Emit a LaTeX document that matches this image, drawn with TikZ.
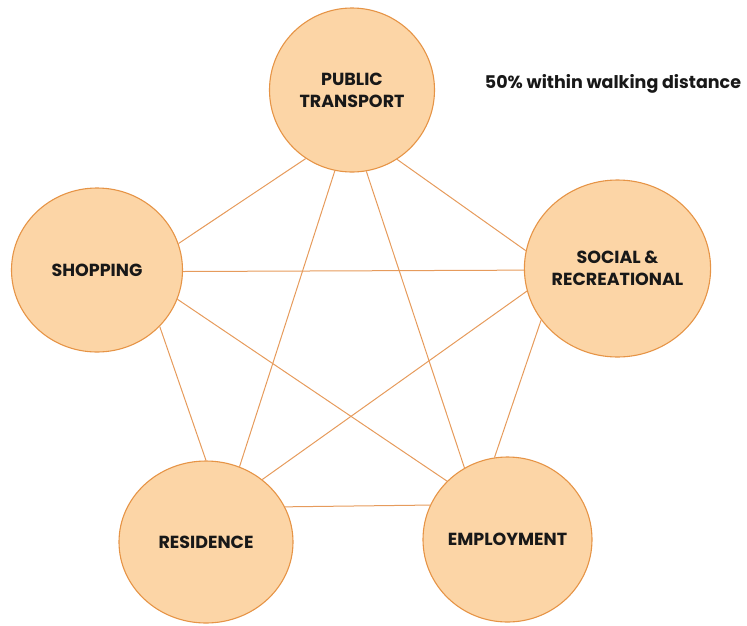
\documentclass[tikz,border=0pt]{standalone}
\usepackage{fontspec}
\setsansfont{Poppins}
\usepackage{tikz}
\usetikzlibrary{shapes.geometric}
\usetikzlibrary{positioning}

\definecolor{peach}{RGB}{252,213,166}
\definecolor{rim}{RGB}{230,148,70}
\definecolor{link}{RGB}{230,155,92}
\definecolor{ink}{RGB}{24,24,24}

\begin{document}
\begin{tikzpicture}[x=1pt, y=-1pt,
    hub/.style={ellipse, draw=rim, line width=1.1pt, fill=peach,
      text=ink, align=center, inner sep=0pt,
      font=\sffamily\bfseries\fontsize{17.5}{22}\selectfont},
    link/.style={draw=link, line width=1pt}]
  \useasboundingbox (0,0) rectangle (747,625);

  % the five discs
  \node[hub, minimum width=165pt, minimum height=164pt] (transport) at (352,90)    {PUBLIC\\TRANSPORT};
  \node[hub, minimum width=171pt, minimum height=164pt] (shopping)  at (97,270)    {SHOPPING};
  \node[hub, minimum width=181pt, minimum height=177pt] (social)    at (617.5,268.5) {SOCIAL \&\\RECREATIONAL};
  \node[hub, minimum width=174pt, minimum height=162pt] (residence) at (206,542)   {RESIDENCE};
  \node[hub, minimum width=169pt, minimum height=165pt] (employ)    at (507.5,539.5) {EMPLOYMENT};

  % every pair is joined, rim to rim
  \draw[link] (transport.236)   -- (shopping.18);
  \draw[link] (transport.303)   -- (social.169.7);
  \draw[link] (transport.258)   -- (residence.66.5);
  \draw[link] (transport.280.4) -- (employ.121.1);
  \draw[link] (shopping.359.3)  -- (social.181.6);
  \draw[link] (shopping.318.8)  -- (residence.90.7);
  \draw[link] (shopping.340.5)  -- (employ.136.5);
  \draw[link] (social.194.7)    -- (residence.48.8);
  \draw[link] (social.214.3)    -- (employ.99.3);
  \draw[link] (residence.24.5)  -- (employ.156);

  \node[text=ink, font=\sffamily\bfseries\fontsize{17.5}{20}\selectfont]
    (walk) at (613,84) {50\% within walking distance};
\end{tikzpicture}
\end{document}
